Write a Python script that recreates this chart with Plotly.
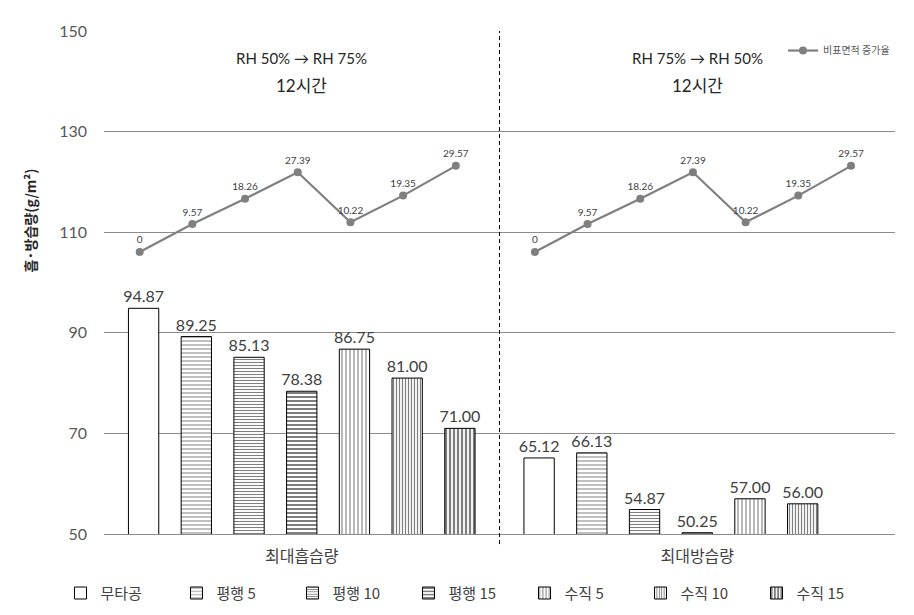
import plotly.graph_objects as go

categories = ["최대흡습량", "최대방습량"]
series_names = ["무타공", "평행 5", "평행 10", "평행 15", "수직 5", "수직 10", "수직 15"]
absorb = [94.87, 89.25, 85.13, 78.38, 86.75, 81.00, 71.00]
desorb = [65.12, 66.13, 54.87, 50.25, 57.00, 56.00, None]
surface_rate = [0, 9.57, 18.26, 27.39, 10.22, 19.35, 29.57]
y_ticks = [50, 70, 90, 110, 130, 150]

# pattern styles (shape, spacing, solidity)
patterns = [
    ("", 8, 0.3),
    ("-", 4, 0.25),
    ("-", 3, 0.36),
    ("-", 4, 0.5),
    ("|", 4, 0.28),
    ("|", 3, 0.4),
    ("|", 4, 0.55),
]

FONT = "Lato, 'Noto Sans CJK KR', sans-serif"
KFONT = "'Noto Sans CJK KR', sans-serif"

fig = go.Figure()
for i, name in enumerate(series_names):
    shape, size, sol = patterns[i]
    vals = [absorb[i], desorb[i]]
    fig.add_trace(go.Bar(
        x=categories, y=vals, name=name,
        marker=dict(color="white", line=dict(color="black", width=1),
                    pattern=dict(shape=shape, size=size, solidity=sol,
                                 fgcolor="black", bgcolor="white", fillmode="overlay")),
        texttemplate="%{y:.2f}", textposition="outside", constraintext="none",
        textfont=dict(size=16, color="#404040", family=FONT),
        cliponaxis=False, legend="legend",
    ))

# line on overlay axes, one point per bar slot, broken between the two groups
GROUP_SPAN = 7.5
line_x, line_y, line_t = [], [], []
for g in range(2):
    if g > 0:
        line_x.append(g * GROUP_SPAN - 0.75)
        line_y.append(None)
        line_t.append("")
    for k, v in enumerate(surface_rate):
        line_x.append(g * GROUP_SPAN + k)
        line_y.append(v)
        line_t.append(str(v))
fig.add_trace(go.Scatter(
    x=line_x, y=line_y, xaxis="x2", yaxis="y2", name="비표면적 증가율",
    mode="lines+markers+text", text=line_t, connectgaps=False,
    textposition="top center", textfont=dict(size=10, color="#404040", family=FONT),
    line=dict(color="#7f7f7f", width=2.2), marker=dict(color="#7f7f7f", size=8),
    legend="legend2", cliponaxis=False,
))

fig.update_layout(
    width=914, height=615,
    margin=dict(l=104, r=19, t=31, b=81, autoexpand=False),
    paper_bgcolor="white", plot_bgcolor="white",
    barmode="group", bargap=0.067, bargroupgap=0.425,
    font=dict(family=FONT, color="#404040"),
    xaxis=dict(type="category", showgrid=False, showline=True, linecolor="#8c8c8c",
               linewidth=1, ticks="", tickfont=dict(size=16, family=KFONT, color="#404040"),
               ticklabelstandoff=8),
    yaxis=dict(range=[50, 150], tickvals=y_ticks, showgrid=True, gridcolor="#8c8c8c",
               gridwidth=1, zeroline=False, showline=False, ticks="",
               tickfont=dict(size=16, color="#595959"), ticklabelstandoff=16),
    xaxis2=dict(overlaying="x", range=[-0.677, 14.335], visible=False),
    yaxis2=dict(overlaying="y", range=[-96.9, 75.9], visible=False),
    legend=dict(orientation="h", x=-0.055, y=-0.085, xanchor="left", yanchor="top",
                font=dict(size=15, family=KFONT, color="#404040"),
                entrywidth=71, entrywidthmode="pixels", itemwidth=30,
                bgcolor="rgba(0,0,0,0)"),
    legend2=dict(x=1.0, y=0.99, xanchor="right", yanchor="top",
                 font=dict(size=10, family=KFONT, color="#595959"),
                 itemwidth=30, bgcolor="rgba(0,0,0,0)"),
    shapes=[dict(type="line", xref="x", yref="paper", x0=0.5, x1=0.5, y0=-0.02, y1=1,
                 line=dict(color="black", width=1, dash="4px,3px"))],
    annotations=[
        dict(text="<b>흡·방습량(g/m²)</b>", textangle=-90, xref="paper", yref="paper",
             x=-0.093, y=0.624, xanchor="center", yanchor="middle", showarrow=False,
             font=dict(size=14, family=KFONT, color="#262626")),
        dict(text="RH 50% → RH 75%", x=0, xref="x", y=144.7, yref="y", showarrow=False,
             font=dict(size=15, color="#262626")),
        dict(text="12시간", x=0, xref="x", y=139.2, yref="y", showarrow=False,
             font=dict(size=17, color="#262626")),
        dict(text="RH 75% → RH 50%", x=1, xref="x", y=144.7, yref="y", showarrow=False,
             font=dict(size=15, color="#262626")),
        dict(text="12시간", x=1, xref="x", y=139.2, yref="y", showarrow=False,
             font=dict(size=17, color="#262626")),
    ],
)

fig.write_html("out.html")
